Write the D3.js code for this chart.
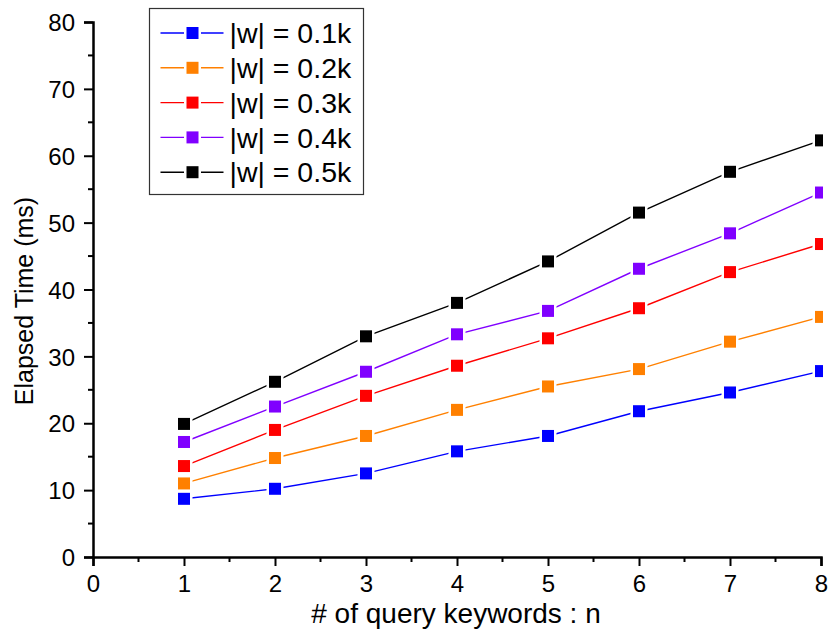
<!DOCTYPE html>
<html>
<head>
<meta charset="utf-8">
<script src="https://cdn.jsdelivr.net/npm/d3@7"></script>
<style>
  body { margin: 0; background: #fff; }
  text { font-family: Arial, "Liberation Sans", sans-serif; fill: #000; }
</style>
</head>
<body>
<div id="chart"></div>
<script>
// values
var keywords = [1, 2, 3, 4, 5, 6, 7, 8];
var series_names = ["|w| = 0.1k", "|w| = 0.2k", "|w| = 0.3k", "|w| = 0.4k", "|w| = 0.5k"];
var w01 = [8.7, 10.2, 12.5, 15.8, 18.1, 21.8, 24.6, 27.8];
var w02 = [11.0, 14.8, 18.1, 22.0, 25.5, 28.1, 32.2, 35.9];
var w03 = [13.6, 19.0, 24.1, 28.6, 32.7, 37.2, 42.6, 46.8];
var w04 = [17.2, 22.5, 27.7, 33.3, 36.8, 43.1, 48.4, 54.5];
var w05 = [19.9, 26.2, 33.0, 38.0, 44.2, 51.5, 57.6, 62.3];
var x_ticks = [0, 1, 2, 3, 4, 5, 6, 7, 8];
var y_ticks = [0, 10, 20, 30, 40, 50, 60, 70, 80];

const colours = ["#0000ff", "#ff8000", "#ff0000", "#8000ff", "#000000"];
var all_series = [w01, w02, w03, w04, w05];

var W = 828, H = 632;
var margin = {top: 22, right: 7, bottom: 75, left: 93};
var width = W - margin.left - margin.right;
var height = H - margin.top - margin.bottom;

var svg = d3.select("#chart").append("svg")
    .attr("width", W)
    .attr("height", H);

var x = d3.scaleLinear().domain([0, 8]).range([0, 728]);
var y = d3.scaleLinear().domain([0, 80]).range([height, 0]);

var g = svg.append("g")
    .attr("transform", "translate(" + margin.left + "," + margin.top + ")");

svg.append("clipPath").attr("id", "plotclip")
  .append("rect")
    .attr("x", -20).attr("y", -20)
    .attr("width", 730 + 20).attr("height", height + 40);

// series
var line = d3.line()
    .x(function(d, i) { return x(keywords[i]); })
    .y(function(d) { return y(d); });

var plot = g.append("g").attr("clip-path", "url(#plotclip)");

all_series.forEach(function(s, k) {
  plot.append("path")
      .datum(s)
      .attr("fill", "none")
      .attr("stroke", colours[k])
      .attr("stroke-width", 1.4)
      .attr("d", line);
});

all_series.forEach(function(s, k) {
  var m = plot.selectAll(".m" + k)
    .data(s)
    .enter();
  m.append("rect")
      .attr("x", function(d, i) { return x(keywords[i]) - 8.5; })
      .attr("y", function(d) { return y(d) - 8.5; })
      .attr("width", 17).attr("height", 17)
      .attr("fill", "#fff");
  m.append("rect")
      .attr("x", function(d, i) { return x(keywords[i]) - 6; })
      .attr("y", function(d) { return y(d) - 6; })
      .attr("width", 12).attr("height", 12)
      .attr("fill", colours[k]);
});

// axes
var xAxis = d3.axisBottom(x).tickValues(x_ticks).tickSize(9).tickPadding(9).tickFormat(d3.format("d"));
var yAxis = d3.axisLeft(y).tickValues(y_ticks).tickSize(9).tickPadding(9).tickFormat(d3.format("d"));

var gx = g.append("g")
    .attr("transform", "translate(0," + height + ")")
    .call(xAxis);
var gy = g.append("g").call(yAxis);

// minor ticks
g.append("g").selectAll("line")
    .data(d3.range(0.5, 8, 1))
  .enter().append("line")
    .attr("x1", function(d) { return x(d); })
    .attr("x2", function(d) { return x(d); })
    .attr("y1", height).attr("y2", height + 5)
    .attr("stroke", "#000").attr("stroke-width", 2);
g.append("g").selectAll("line")
    .data(d3.range(5, 80, 10))
  .enter().append("line")
    .attr("y1", function(d) { return y(d); })
    .attr("y2", function(d) { return y(d); })
    .attr("x1", 0).attr("x2", -5)
    .attr("stroke", "#000").attr("stroke-width", 2);

[gx, gy].forEach(function(a) {
  a.select(".domain").attr("stroke-width", 2.5);
  a.selectAll(".tick line").attr("stroke-width", 2);
  a.selectAll(".tick text")
      .attr("font-size", "24px");
});
gx.selectAll(".tick text").attr("dy", "0.71em");
gy.selectAll(".tick text").attr("dy", "0.36em");

// axis titles
svg.append("text")
    .attr("x", 456)
    .attr("y", 623)
    .attr("text-anchor", "middle")
    .attr("font-size", "28px")
    .text("# of query keywords : n");

svg.append("text")
    .attr("transform", "translate(33," + 301 + ") rotate(-90)")
    .attr("text-anchor", "middle")
    .attr("font-size", "25px")
    .text("Elapsed Time (ms)");

// legend
var legend = svg.append("g").attr("transform", "translate(149.5,8.5)");
legend.append("rect")
    .attr("width", 214).attr("height", 186)
    .attr("fill", "#fff")
    .attr("stroke", "#333").attr("stroke-width", 1.2);

series_names.forEach(function(name, k) {
  var yy = 24.5 + k * 34.8;
  var row = legend.append("g").attr("transform", "translate(0," + yy + ")");
  row.append("line")
      .attr("x1", 11).attr("x2", 74)
      .attr("stroke", colours[k]).attr("stroke-width", 1.4);
  row.append("rect")
      .attr("x", 34.5).attr("y", -8.5).attr("width", 17).attr("height", 17)
      .attr("fill", "#fff");
  row.append("rect")
      .attr("x", 37).attr("y", -6).attr("width", 12).attr("height", 12)
      .attr("fill", colours[k]);
  row.append("text")
      .attr("x", 80)
      .attr("dy", "0.36em")
      .attr("font-size", "28.5px")
      .text(name);
});
</script>
</body>
</html>
